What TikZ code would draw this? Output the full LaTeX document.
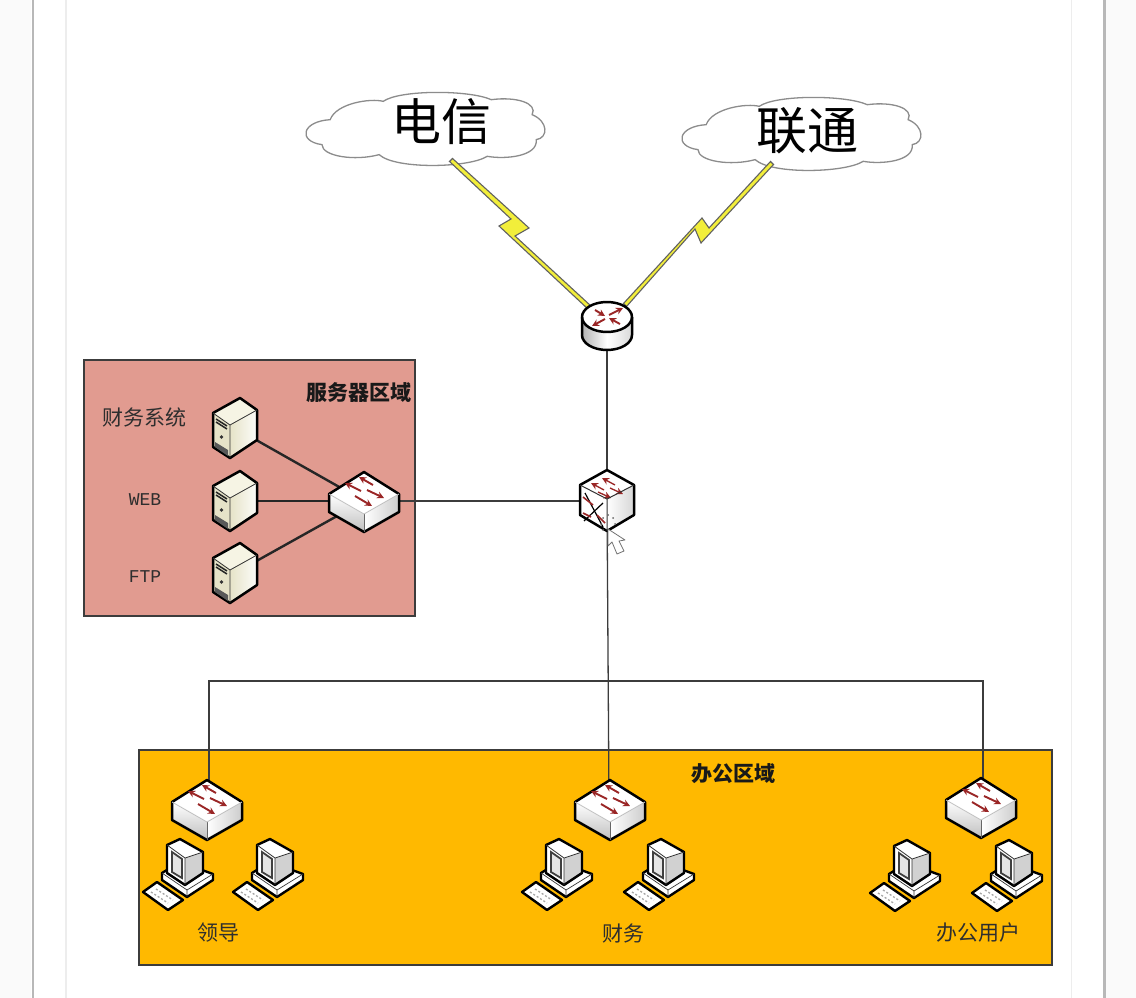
\documentclass[tikz,border=0pt]{standalone}
\usepackage{fontspec}
\setmainfont{Noto Sans CJK SC}
\newfontfamily\latinmono{Liberation Mono}
\usetikzlibrary{arrows.meta}
\definecolor{arrowred}{HTML}{9A2626}
\definecolor{regionred}{HTML}{E19B90}
\definecolor{regionamber}{HTML}{FFB900}
\definecolor{edgegray}{HTML}{3C3C3C}
\definecolor{boltyellow}{HTML}{F2EE3A}
\definecolor{creamA}{HTML}{F6F4E4}
\definecolor{creamB}{HTML}{E6E3C8}
\tikzset{
  every node/.style={inner sep=0pt,outer sep=0pt},
  linkline/.style={draw=edgegray,line width=1.3pt},
  srvlink/.style={draw=black!85,line width=2.4pt},
  bolt/.style={fill=boltyellow,draw=black!62,line width=1.1pt,line join=miter},
  region/.style={draw=edgegray,line width=1.5pt},
  iconline/.style={draw=black,line width=2.5pt,line join=round},
  thinblack/.style={draw=black,line width=1.2pt},
  flowarrow/.style={draw=arrowred,line width=1.9pt,-{Stealth[length=7pt,width=7pt]}},
  lab/.style={font=\fontsize{21}{21}\selectfont,text=black!82},
  labb/.style={font=\fontsize{21}{21}\selectfont\bfseries,text=black!90},
  cloudicon/.pic={
    \begin{scope}[xscale=0.408,yscale=0.333]
    \draw[fill=white,draw=black!45,line width=1.3pt]
      (-230,-25) .. controls (-215,-75) and (-130,-90) .. (-100,-80)
      .. controls (-60,-115) and (110,-115) .. (165,-85)
      .. controls (225,-95) and (280,-75) .. (265,-40)
      .. controls (305,-20) and (305,30) .. (275,35)
      .. controls (280,85) and (200,95) .. (155,85)
      .. controls (110,120) and (-70,125) .. (-110,80)
      .. controls (-170,100) and (-250,85) .. (-250,50)
      .. controls (-310,40) and (-300,-20) .. (-230,-25) -- cycle;
    \end{scope}
  },
  switchicon/.pic={
    \fill[white] (-35,0) -- (0,-22) -- (35,0) -- (35,18) -- (0,38) -- (-35,18) -- cycle;
    \shade[top color=white,bottom color=black!25] (-35,0) -- (0,20) -- (0,38) -- (-35,18) -- cycle;
    \shade[left color=white,right color=black!20] (35,0) -- (0,20) -- (0,38) -- (35,18) -- cycle;
    \draw[iconline] (-35,0) -- (0,-22) -- (35,0) -- (35,18) -- (0,38) -- (-35,18) -- cycle;
    \draw[draw=black!60,line width=0.8pt] (0,20) -- (0,38);
    \draw[draw=black!25,line width=0.8pt] (-35,0) -- (0,20) -- (35,0);
    \draw[flowarrow] (9,-9) -- (-5,-17);
    \draw[flowarrow] (-3,-3) -- (-19,-11);
    \draw[flowarrow] (3,-4) -- (20,4);
    \draw[flowarrow] (-9,2) -- (8,12);
  },
  servericon/.pic={
    \fill[creamA] (-22,-15) -- (5,-30) -- (22,-18) -- (-5,-3) -- cycle;
    \shade[left color=creamB,right color=white!90!creamB] (-5,-3) -- (22,-18) -- (22,12) -- (-5,30) -- cycle;
    \fill[creamB] (-22,-15) -- (-5,-3) -- (-5,30) -- (-22,19) -- cycle;
    \draw[iconline] (-22,-15) -- (5,-30) -- (22,-18) -- (22,12) -- (-5,30) -- (-22,19) -- cycle;
    \draw[draw=black!80,line width=0.8pt] (-22,-15) -- (-5,-3) -- (22,-18) (-5,-3) -- (-5,30);
    \draw[draw=black!85,line width=1.5pt] (-19,-9) -- (-8,-2) (-19,-6) -- (-8,1);
    \fill[black!80] (-13.5,9) circle (1.8);
    \fill[black!65] (-20,14) -- (-7,22) -- (-7,28) -- (-20,19) -- cycle;
  },
  pcicon/.pic={
    \fill[white,draw=black,line width=2.4pt,line join=round] (-23,3) -- (-5,-8) -- (28,4) -- (28,10) -- (2,27) -- (-23,10) -- cycle;
    \draw[draw=black!80,line width=0.7pt] (-23,3) -- (2,20) -- (28,4) (2,20) -- (2,27);
    \fill[white] (-18,-25) -- (-5,-31) -- (18,-18) -- (18,3) -- (0,15) -- (-18,3) -- cycle;
    \fill[black!18] (0,-12) -- (18,-18) -- (18,3) -- (0,15) -- cycle;
    \draw[draw=black,line width=2.4pt,line join=round] (-18,-25) -- (-5,-31) -- (18,-18) -- (18,3) -- (0,15) -- (-18,3) -- cycle;
    \draw[draw=black!80,line width=0.8pt] (-18,-25) -- (0,-12) -- (18,-18) (0,-12) -- (0,15);
    \fill[black!10,draw=black!75,line width=1.8pt] (-13,-18) -- (-3,-11) -- (-3,8) -- (-13,2) -- cycle;
    \fill[white,draw=black,line width=2.4pt,line join=round] (-42,22) -- (-28,12) -- (-2,30) -- (-17,40) -- cycle;
    \draw[draw=black!35,line width=1.3pt,dash pattern=on 2pt off 2pt] (-34,22) -- (-17,33) (-29,19) -- (-12,30);
  },
  routericon/.pic={
    \shade[left color=black!30,right color=black!15,middle color=white] (-25,0) -- (-25,18) arc[start angle=180,end angle=0,x radius=25,y radius=15] -- (25,0) -- cycle;
    \draw[iconline,fill=white] (0,0) ellipse[x radius=25,y radius=15];
    \draw[iconline] (-25,0) -- (-25,18) arc[start angle=180,end angle=0,x radius=25,y radius=15] -- (25,0);
    \draw[flowarrow] (-2,2) -- (-15,9);
    \draw[flowarrow] (2,-2) -- (16,-9);
    \draw[flowarrow] (-12,-7) -- (-2,-1);
    \draw[flowarrow] (13,7) -- (2,1);
  },
  mlsicon/.pic={
    \fill[white] (0,-31) -- (27,-16) -- (27,14) -- (0,30) -- (-27,14) -- (-27,-16) -- cycle;
    \shade[left color=white,right color=black!16] (0,-2) -- (27,-16) -- (27,14) -- (0,30) -- cycle;
    \draw[flowarrow,line width=1.3pt] (8,-16) -- (-5,-23);
    \draw[flowarrow,line width=1.3pt] (-3,-11) -- (-16,-18);
    \draw[flowarrow,line width=1.3pt] (3,-13) -- (16,-7);
    \draw[flowarrow,line width=1.3pt] (-9,-9) -- (4,-3);
    \draw[thinblack] (-22,-8) -- (-4,26) (-4,2) -- (-23,20);
    \draw[draw=arrowred,line width=1.6pt] (-24,-4) -- (-14,4) (-10,14) -- (-2,22) (-24,12) -- (-16,16);
    \draw[iconline] (0,-31) -- (27,-16) -- (27,14) -- (0,30) -- (-27,14) -- (-27,-16) -- cycle;
    \draw[draw=black!80,line width=1pt] (-27,-16) -- (0,-2) -- (27,-16) (0,-2) -- (0,30);
  },
}
\begin{document}
\begin{tikzpicture}[x=1pt,y=-1pt]
\useasboundingbox (0,0) rectangle (1136,998);
% page background
\fill[white] (0,0) rectangle (1136,998);
\fill[black!2] (1106,0) rectangle (1136,998);
\fill[black!2] (0,0) rectangle (31,998);
\fill[black!28] (31.5,0) rectangle (34,998);
\fill[black!28] (1103,0) rectangle (1106,998);
\fill[black!7] (65,0) rectangle (66.5,998);
\fill[black!7] (1070.5,0) rectangle (1072,998);
% regions
\node[region,fill=regionred,minimum width=331pt,minimum height=256pt,anchor=north west] (srvzone) at (84,360) {};
\node[region,fill=regionamber,minimum width=913pt,minimum height=215pt,anchor=north west] (offzone) at (139,750) {};
% anchors for icons
\node (rt) at (607,317) {};
\node (mls) at (607,501) {};
\node (core) at (364,501) {};
\node (s1) at (235,428) {};
\node (s2) at (235,501) {};
\node (s3) at (235,573) {};
\node (oa) at (209,802) {};
\node (ob) at (609,802) {};
\node (oc) at (983,800) {};
\coordinate (tel) at (451,160);
\coordinate (uni) at (772,163);
\coordinate (rl) at (590,308);
\coordinate (rr) at (625,305);
\coordinate (bus) at (609,681);
% connectors
\draw[linkline] (rt) -- (mls);
\draw[linkline] (core) -- (mls);
\draw[linkline] (mls) -- (ob);
\draw[linkline] (oa) |- (bus) -| (oc);
\draw[srvlink] (s1) -- (core);
\draw[srvlink] (s2) -- (core);
\draw[srvlink] (s3) -- (core);
% clouds
\pic at (424,128) {cloudicon};
\pic at (800,133) {cloudicon};
\node[font=\fontsize{50}{50}\selectfont,text=black] (telt) at (441,122) {电信};
\node[font=\fontsize{51}{51}\selectfont,text=black] (unit) at (807,131) {联通};
% bolts
\draw[bolt] ([shift={(1.5,-1.5)}]tel) -- (529,228) -- (515,236) -- ([shift={(1.5,-1.5)}]rl) -- ([shift={(-1.5,1.5)}]rl) -- (499,226) -- (511,219) -- ([shift={(-1.5,1.5)}]tel) -- cycle;
\draw[bolt] ([shift={(1.5,1.5)}]uni) -- (701,243) -- (695,229) -- ([shift={(1.5,1.5)}]rr) -- ([shift={(-1.5,-1.5)}]rr) -- (702,218) -- (709,228) -- ([shift={(-1.5,-1.5)}]uni) -- cycle;
% icons
\pic at (rt) {routericon};
\pic at (mls) {mlsicon};
\pic at (364,494) {switchicon};
\pic at (s1) {servericon};
\pic at (s2) {servericon};
\pic at (s3) {servericon};
\pic at (207,802) {switchicon};
\pic at (610,802) {switchicon};
\pic at (981,800) {switchicon};
\pic at (185,870) {pcicon};
\pic at (275,870) {pcicon};
\pic at (564,870) {pcicon};
\pic at (666,870) {pcicon};
\pic at (912,871) {pcicon};
\pic at (1014,871) {pcicon};
% pointer
\fill[white,draw=black!55,line width=0.8pt,line join=round] (608,529) -- (608,546) -- (612,542) -- (617,554) -- (624,551) -- (619,541) -- (625,540) -- cycle;
\foreach \dx/\dy in {-5/-6,0/-9,5/-6,-7/0,7/0,-5/6}{\fill[black!60] (608+\dx,524+\dy) circle (1);}
% labels
\node[labb] (t1) at (359,393) {服务器区域};
\node[lab] (t2) at (144,417) {财务系统};
\node[font=\fontsize{18}{18}\selectfont\latinmono,text=black!82] (t3) at (145,500) {WEB};
\node[font=\fontsize{18}{18}\selectfont\latinmono,text=black!82] (t4) at (145,577) {FTP};
\node[labb] (t5) at (733,774) {办公区域};
\node[lab] (t6) at (218,933) {领导};
\node[lab] (t7) at (623,933) {财务};
\node[lab] (t8) at (978,933) {办公用户};
\end{tikzpicture}
\end{document}
